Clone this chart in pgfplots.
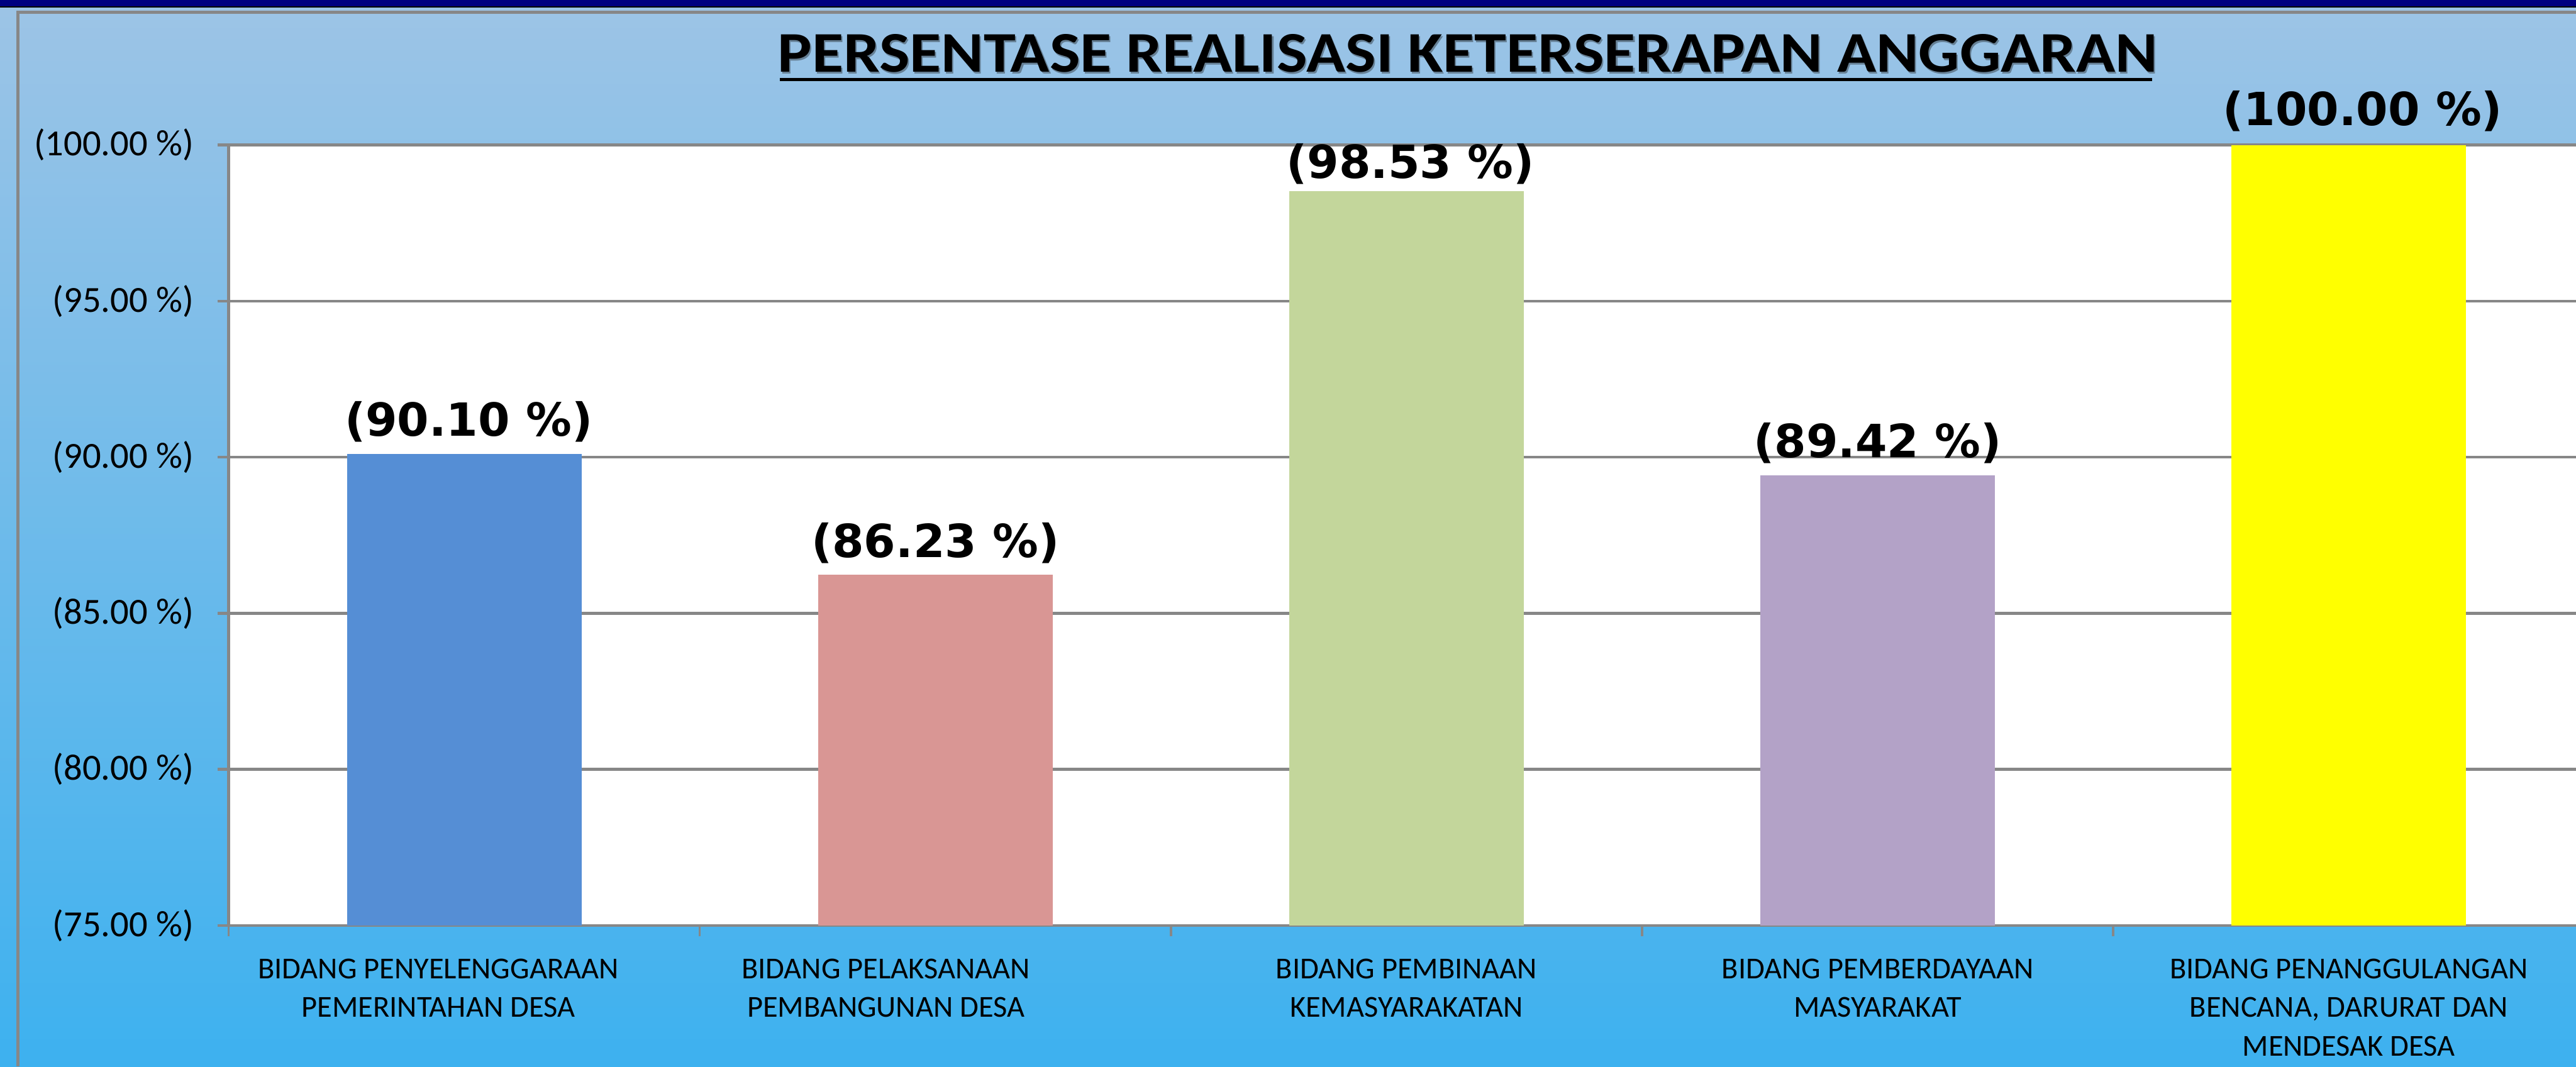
\documentclass[border=0pt]{standalone}
\usepackage{graphicx}
\usepackage{pgfplots}
\pgfplotsset{compat=1.18}
\usepackage{fontspec}
\setmainfont{Carlito}
\newfontfamily\lblfont{DejaVu Sans}
\definecolor{bgtop}{HTML}{9DC4E6}
\definecolor{bgbot}{HTML}{3DB1EF}
\definecolor{navyband}{HTML}{000080}
\definecolor{gridgray}{HTML}{878787}
\definecolor{c1}{HTML}{558ED5}
\definecolor{c2}{HTML}{D99694}
\definecolor{c3}{HTML}{C3D69B}
\definecolor{c4}{HTML}{B3A2C7}
\definecolor{c5}{HTML}{FFFF00}
\begin{document}
\begin{tikzpicture}
\useasboundingbox (0,0) rectangle (465.3pt,192.7pt);
\shade[top color=bgtop, bottom color=bgbot] (0,0) rectangle (465.3pt,192.7pt);
\fill[navyband] (0,191.5pt) rectangle (465.3pt,192.7pt);
\fill[black] (0,191.3pt) rectangle (465.3pt,191.6pt);
\draw[gridgray, line width=0.6pt] (3.2pt,0) -- (3.2pt,190.5pt) -- (470pt,190.5pt);
\node[anchor=base, font=\fontsize{10.4}{12}\bfseries\selectfont, text=black!35!bgtop, inner sep=0] at (265.35pt,179.4pt) {\scalebox{1.12}[1]{PERSENTASE REALISASI KETERSERAPAN ANGGARAN}};
\node[anchor=base, font=\fontsize{10.4}{12}\bfseries\selectfont, inner sep=0] at (265.1pt,179.7pt) {\scalebox{1.12}[1]{PERSENTASE REALISASI KETERSERAPAN ANGGARAN}};
\draw[line width=0.6pt] (140.9pt,178.3pt) -- (388.7pt,178.3pt);
\begin{axis}[
  at={(41.3pt,25.5pt)}, anchor=south west,
  scale only axis, width=425.5pt, height=141pt,
  xmin=-0.5, xmax=4.5, ymin=75, ymax=100,
  clip=false,
  axis background/.style={fill=white},
  axis x line*=bottom, axis y line*=left,
  axis line style={-, gridgray, line width=0.5pt},
  ytick={75,80,...,100},
  ymajorgrids, grid style={gridgray, line width=0.5pt},
  tick align=outside, major tick length=2pt, minor tick length=2pt,
  ytick style={gridgray, line width=0.5pt},
  xtick={-0.055,0.895,2,3,4},
  major x tick style={draw=none},
  minor xtick={-0.5,0.5,1.5,2.5,3.5,4.5},
  minor x tick style={gridgray, line width=0.4pt},
  /pgf/number format/assume math mode=true,
  yticklabel={(\pgfmathprintnumber[fixed,fixed zerofill,precision=2]{\tick}~\%)},
  yticklabel style={font=\fontsize{6.65}{8}\selectfont, text=black, xshift=-0.8pt},
  xticklabels={{BIDANG PENYELENGGARAAN\\PEMERINTAHAN DESA},
                {BIDANG PELAKSANAAN\\PEMBANGUNAN DESA},
                {BIDANG PEMBINAAN\\KEMASYARAKATAN},
                {BIDANG PEMBERDAYAAN\\MASYARAKAT},
                {BIDANG PENANGGULANGAN\\BENCANA, DARURAT DAN\\MENDESAK DESA}},
  xticklabel style={align=center, font=\fontsize{5.5}{7}\selectfont, text=black, yshift=-0.5pt},
  ybar, bar width=42.4pt,
  nodes near coords={(\pgfmathprintnumber[fixed,fixed zerofill,precision=2]{\pgfplotspointmeta}~\%)},
  nodes near coords style={font=\lblfont\bfseries\fontsize{8.25}{9.5}\selectfont, text=black, anchor=base, yshift=3.2pt},
]
\addplot[fill=c1, draw=none, bar shift=0pt, every node near coord/.append style={xshift=0.8pt}] coordinates {(0,90.10)};
\addplot[fill=c2, draw=none, bar shift=0pt] coordinates {(1,86.23)};
\addplot[fill=c3, draw=none, bar shift=0pt, every node near coord/.append style={xshift=0.7pt, yshift=-0.9pt}] coordinates {(2,98.53)};
\addplot[fill=c4, draw=none, bar shift=0pt] coordinates {(3,89.42)};
\addplot[fill=c5, draw=none, bar shift=0pt, every node near coord/.append style={xshift=2.5pt, yshift=0.3pt}] coordinates {(4,100.00)};
\end{axis}
\end{tikzpicture}
\end{document}
